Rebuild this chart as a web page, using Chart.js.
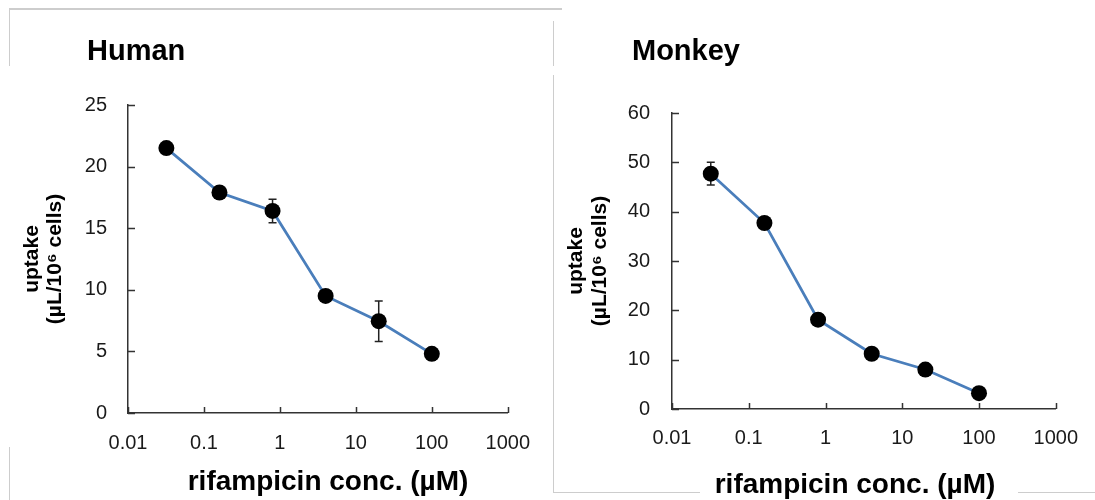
<!DOCTYPE html>
<html>
<head>
<meta charset="utf-8">
<script src="https://cdn.jsdelivr.net/npm/chart.js@4.4.0/dist/chart.umd.min.js"></script>
<style>
  body { margin: 0; background: #fff; font-family: "Liberation Sans", Arial, sans-serif; }
  #wrap { position: relative; width: 1095px; height: 500px; overflow: hidden; background: #fff; }
  .box { position: absolute; top: 0; height: 500px; }
  .ttl { position: absolute; top: 36px; font-weight: bold; font-size: 29px; line-height: 1; color: #000; }
  .ln { position: absolute; background: #cdcdcd; }
</style>
</head>
<body>
<div id="wrap">
  <div class="box" style="left:0;width:548px"><canvas id="human"></canvas></div>
  <div class="box" style="left:548px;width:547px"><canvas id="monkey"></canvas></div>
  <div class="ttl" style="left:87px">Human</div>
  <div class="ttl" style="left:632px">Monkey</div>
  <!-- light frame lines left over from the figure -->
  <div class="ln" style="left:9px;top:8px;width:553px;height:2px"></div>
  <div class="ln" style="left:9px;top:8px;width:1px;height:58px"></div>
  <div class="ln" style="left:9px;top:447px;width:1px;height:53px"></div>
  <div class="ln" style="left:553px;top:21px;width:1px;height:45px"></div>
  <div class="ln" style="left:553px;top:75px;width:1px;height:418px"></div>
  <div class="ln" style="left:553px;top:492px;width:147px;height:1px"></div>
  <div class="ln" style="left:1018px;top:492px;width:77px;height:1px"></div>
</div>
<script>
// rifampicin concentrations (uM)
const conc = [0.032, 0.16, 0.8, 4, 20, 100];

const humanUptake = [21.5, 17.9, 16.4, 9.5, 7.45, 4.8];
const humanErr = [0.3, 0.4, 0.95, 0.4, 1.65, 0.5];

const monkeyUptake = [47.7, 37.7, 18.1, 11.2, 8.0, 3.2];
const monkeyErr = [2.3, 0.8, 0.8, 0.8, 0.8, 0.8];

const xTicks = [0.01, 0.1, 1, 10, 100, 1000];
const xTickLabels = ["0.01", "0.1", "1", "10", "100", "1000"];

const xTitle = "rifampicin conc. (\u00b5M)";
const yTitle = ["uptake", "(\u00b5L/10\u2076 cells)"];

const FONT = "'Liberation Sans', Arial, sans-serif";

// error bars, inward tick marks and the x axis title
const extras = {
  id: "extras",
  beforeDatasetsDraw(chart, args, opts) {
    const ctx = chart.ctx;
    const x = chart.scales.x, y = chart.scales.y;
    const ds = chart.data.datasets[0];
    ctx.save();
    ctx.strokeStyle = "#222";
    ctx.lineWidth = 1.5;
    ds.data.forEach((p, i) => {
      const e = opts.errors[i];
      const px = x.getPixelForValue(p.x);
      const t = y.getPixelForValue(p.y + e);
      const b = y.getPixelForValue(p.y - e);
      ctx.beginPath();
      ctx.moveTo(px, t); ctx.lineTo(px, b);
      ctx.moveTo(px - 4, t); ctx.lineTo(px + 4, t);
      ctx.moveTo(px - 4, b); ctx.lineTo(px + 4, b);
      ctx.stroke();
    });
    ctx.strokeStyle = "#333";
    ctx.beginPath();
    y.ticks.forEach(tk => {
      const py = Math.round(y.getPixelForValue(tk.value)) + 0.5;
      ctx.moveTo(x.left, py); ctx.lineTo(x.left + 7, py);
    });
    x.ticks.forEach(tk => {
      const px = Math.round(x.getPixelForValue(tk.value)) + 0.5;
      ctx.moveTo(px, y.bottom); ctx.lineTo(px, y.bottom - 6);
    });
    ctx.stroke();
    ctx.restore();
  },
  afterDraw(chart, args, opts) {
    const ctx = chart.ctx;
    ctx.save();
    ctx.fillStyle = "#000";
    ctx.font = "bold 28px " + FONT;
    ctx.textAlign = "center";
    ctx.textBaseline = "middle";
    ctx.fillText(xTitle, opts.tx, opts.ty);
    ctx.restore();
  }
};

function makeChart(id, vals, errs, yMax, yStep, lay) {
  new Chart(document.getElementById(id), {
    type: "line",
    data: {
      datasets: [{
        data: conc.map((c, i) => ({ x: c, y: vals[i] })),
        borderColor: "#4a7ebb",
        borderWidth: 2.75,
        pointRadius: 8,
        pointHoverRadius: 8,
        pointBackgroundColor: "#000",
        pointBorderColor: "#000",
        pointBorderWidth: 0,
        tension: 0,
        fill: false
      }]
    },
    options: {
      responsive: true,
      maintainAspectRatio: false,
      animation: false,
      layout: { padding: { left: 0, right: lay.right, top: lay.top, bottom: 0 } },
      plugins: {
        legend: { display: false },
        tooltip: { enabled: false },
        extras: { errors: errs, tx: lay.tx, ty: lay.ty }
      },
      scales: {
        x: {
          type: "logarithmic",
          min: 0.01,
          max: 1000,
          afterBuildTicks: s => { s.ticks = xTicks.map(v => ({ value: v })); },
          afterFit: s => { s.height = lay.xh; },
          grid: { drawOnChartArea: false, drawTicks: false },
          border: { color: "#333", width: 1.5 },
          ticks: {
            autoSkip: false,
            maxRotation: 0,
            padding: lay.xpad,
            color: "#1a1a1a",
            font: { family: FONT, size: 20 },
            callback: (v, i) => xTickLabels[i]
          }
        },
        y: {
          min: 0,
          max: yMax,
          afterFit: s => { s.width = lay.yw; },
          grid: { drawOnChartArea: false, drawTicks: false },
          border: { color: "#333", width: 1.5 },
          ticks: {
            stepSize: yStep,
            padding: lay.ypad,
            color: "#1a1a1a",
            font: { family: FONT, size: 20 }
          },
          title: {
            display: true,
            text: yTitle,
            color: "#000",
            font: { family: FONT, size: 21, weight: "bold", lineHeight: lay.ylh },
            padding: { top: lay.ytp, bottom: 0 }
          }
        }
      }
    },
    plugins: [extras]
  });
}

makeChart("human", humanUptake, humanErr, 25, 5,
  { right: 30, top: 105, xh: 87, yw: 128, xpad: 18, ypad: 21, ytp: 21, ylh: 1.1, tx: 328, ty: 482 });
makeChart("monkey", monkeyUptake, monkeyErr, 60, 10,
  { right: 35, top: 113, xh: 91, yw: 124, xpad: 17, ypad: 22, ytp: 16, ylh: 1.15, tx: 307, ty: 485 });
</script>
</body>
</html>
